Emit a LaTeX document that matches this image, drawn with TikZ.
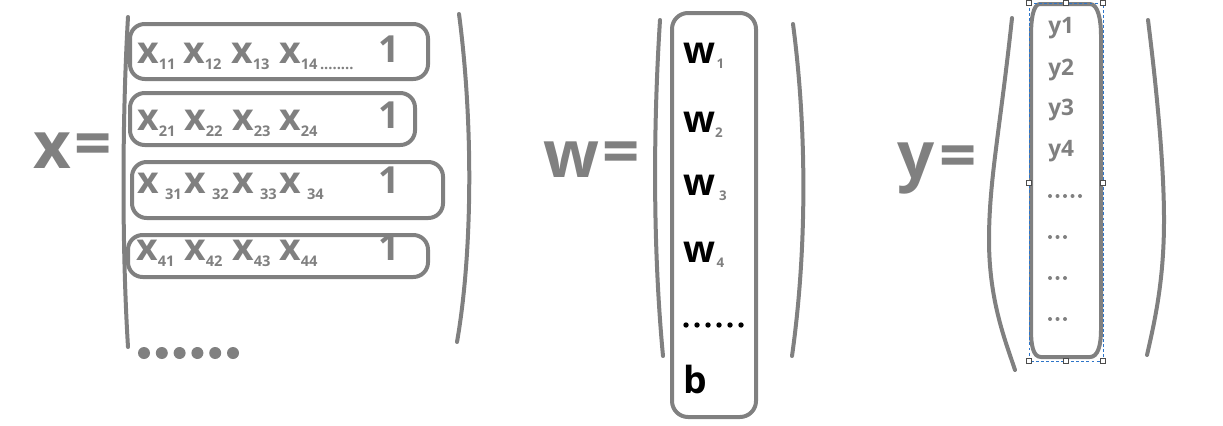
\documentclass[tikz,border=0pt]{standalone}
\usepackage{fontspec}
\setmainfont{Open Sans}
\definecolor{gr}{HTML}{808080}
\definecolor{selblue}{HTML}{2E75C8}
\newcommand\sbs[1]{\raisebox{-4.5pt}{\fontsize{11}{11}\selectfont #1}}
\newcommand\wsb[1]{\raisebox{-4pt}{\textcolor{gr}{\fontsize{10}{10}\selectfont #1}}}
\begin{document}
\begin{tikzpicture}[x=0.75pt,y=-0.75pt,
  br/.style={draw=gr, line width=3pt, line cap=round},
  rowbox/.style={draw=gr, line width=3pt, rounded corners=11pt},
  big/.style={text=gr, font=\fontsize{49}{49}\selectfont\bfseries, anchor=base west, inner sep=0pt},
  eq/.style={text=gr, font=\fontsize{49}{49}\selectfont\bfseries, anchor=center, inner sep=0pt},
  term/.style={text=gr, font=\fontsize{28}{28}\selectfont\bfseries, anchor=base west, inner sep=0pt},
  wterm/.style={text=black, font=\fontsize{28}{28}\selectfont\bfseries, anchor=base west, inner sep=0pt},
  yterm/.style={text=gr, font=\fontsize{17}{17}\selectfont\bfseries, anchor=base west, inner sep=0pt},
  handle/.style={draw=black!70, fill=white, line width=0.5pt, minimum size=4pt, inner sep=0pt, rectangle}
]
\useasboundingbox (0,0) rectangle (1223,425);

% ---------- x ----------
\node[big] (X) at (33,168) {x};
\node[eq] (Xeq) at (93,150) {=};
\draw[br] (128,17) .. controls (122,120) and (122,250) .. (128,347);
\draw[br] (459,14) .. controls (473,120) and (473,250) .. (457,342);

\node[term] (x11) at (137,63) {x\sbs{11}};
\node[term] (x12) at (183,63) {x\sbs{12}};
\node[term] (x13) at (231,63) {x\sbs{13}};
\node[term] (x14) at (279,63) {x\sbs{14\,........}};
\node[term] (one1) at (378,62) {1};

\node[term] (x21) at (137,130) {x\sbs{21}};
\node[term] (x22) at (184,130) {x\sbs{22}};
\node[term] (x23) at (232,130) {x\sbs{23}};
\node[term] (x24) at (279,130) {x\sbs{24}};
\node[term] (one2) at (378,128) {1};

\node[term] (x31) at (137,193) {x\,\sbs{31}};
\node[term] (x32) at (184,193) {x\,\sbs{32}};
\node[term] (x33) at (232,193) {x\,\sbs{33}};
\node[term] (x34) at (279,193) {x\,\sbs{34}};
\node[term] (one3) at (378,193) {1};

\node[term] (x41) at (136,260) {x\sbs{41}};
\node[term] (x42) at (184,260) {x\sbs{42}};
\node[term] (x43) at (232,260) {x\sbs{43}};
\node[term] (x44) at (279,260) {x\sbs{44}};
\node[term] (one4) at (378,260) {1};

\draw[rowbox] (130,24) rectangle (428,79);
\draw[rowbox] (130,93) rectangle (415,145);
\draw[rowbox] (132,162) rectangle (443,218);
\draw[rowbox] (128,235) rectangle (428,277);

\foreach \i in {0,...,5} \fill[gr] (144+17.8*\i,353) circle (6);

% ---------- w ----------
\node[big] (W) at (543,177) {w};
\node[eq] (Weq) at (621,158) {=};
\draw[br] (660,20) .. controls (653,130) and (653,250) .. (663,356);
\draw[br] (793,24) .. controls (807,130) and (807,250) .. (792,356);
\draw[draw=gr, line width=3pt, rounded corners=12pt] (672,13) rectangle (756,417);

\node[wterm] (w1) at (683,63) {w\hspace{1pt}\wsb{1}};
\node[wterm] (w2) at (683,132) {w\wsb{2}};
\node[wterm] (w3) at (683,195) {w\hspace{3pt}\wsb{3}};
\node[wterm] (w4) at (683,262) {w\hspace{1pt}\wsb{4}};
\foreach \i in {0,...,5} \fill[black] (686+11*\i,325) circle (2.7);
\node[wterm] (b) at (683,393) {b};

% ---------- y ----------
\node[big] (Y) at (897,178) {y};
\node[eq] (Yeq) at (958,162) {=};
\draw[br] (1012,18) .. controls (1000,130) and (989,180) .. (989,240)
          .. controls (989,300) and (1005,340) .. (1015,370);
\draw[br] (1148,20) .. controls (1158,100) and (1164,170) .. (1164,220)
          .. controls (1164,280) and (1155,320) .. (1147,355);
\draw[draw=gr, line width=3pt, line join=round]
  (1040,4) -- (1090,4) .. controls (1098,4) and (1101,20) .. (1101,35)
  -- (1101,330) .. controls (1101,345) and (1098,357) .. (1090,357)
  -- (1041,357) .. controls (1033,357) and (1031,345) .. (1031,330)
  -- (1031,35) .. controls (1031,20) and (1033,4) .. (1040,4) -- cycle;

\node[yterm] (y1) at (1048,33) {y1};
\node[yterm] (y2) at (1048,75) {y2};
\node[yterm] (y3) at (1048,115) {y3};
\node[yterm] (y4) at (1048,156) {y4};
\foreach \i in {0,...,4} \fill[gr] (1050+7.5*\i,196) circle (2);
\foreach \yy in {237,278,319} \foreach \i in {0,...,2} \fill[gr] (1050+7.5*\i,\yy) circle (2);

% selection frame
\draw[selblue, line width=0.6pt, dash pattern=on 2.2pt off 1.6pt] (1029,3) rectangle (1103,361);
\foreach \p in {(1029,3),(1066,3),(1103,3),(1029,183),(1103,183),(1029,361),(1066,361),(1103,361)}
  \node[handle] at \p {};
\end{tikzpicture}
\end{document}
